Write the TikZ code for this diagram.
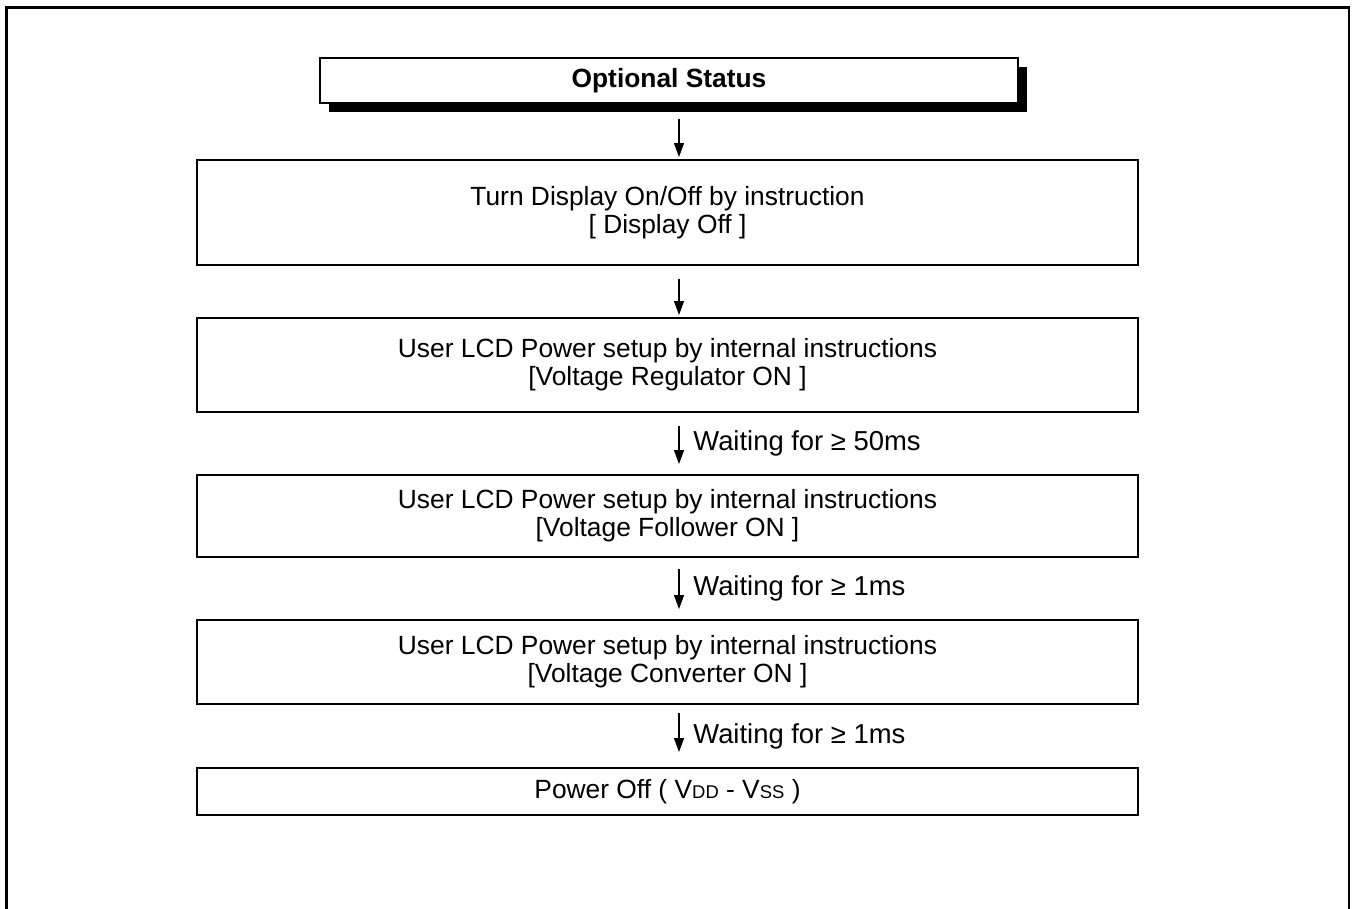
\documentclass[tikz,border=0pt]{standalone}
\usepackage{fontspec}
\setmainfont{Liberation Sans}
\usetikzlibrary{arrows.meta}
\usetikzlibrary{shadows}

\tikzset{
  stepbox/.style={draw,line width=1.1pt,minimum width=18.82cm,align=center,
    inner sep=0pt,font=\fontsize{15}{16}\selectfont},
  headbox/.style={draw,line width=1.1pt,fill=white,minimum width=13.96cm,minimum height=0.9cm,
    font=\bfseries\fontsize{15}{16}\selectfont,
    drop shadow={shadow xshift=0.17cm,shadow yshift=-0.17cm,fill=black,opacity=1}},
  flow/.style={line width=0.6pt,-{Triangle[width=0.2cm,length=0.28cm]}},
  wait/.style={midway,right=0.16cm,font=\fontsize{15.6}{16}\selectfont}
}
\newcommand{\subsc}[1]{{\fontsize{10.5}{12}\selectfont #1}}

\begin{document}
\begin{tikzpicture}
  \useasboundingbox (0,0) rectangle (27.12,-18.18);

  % outer frame, open at the bottom
  \draw[line width=1.5pt] (0.13,-18.4) -- (0.13,-0.15) -- (26.98,-0.15) -- (26.98,-18.4);

  \node[headbox] (Status) at (13.38,-1.61) {Optional Status};

  \node[stepbox,minimum height=2.10cm] (Display) at (13.35,-4.25)
    {Turn Display On/Off by instruction\\{[} Display Off ]};
  \node[stepbox,minimum height=1.88cm] (Regulator) at (13.35,-7.30)
    {User LCD Power setup by internal instructions\\{[}Voltage Regulator ON ]};
  \node[stepbox,minimum height=1.64cm] (Follower) at (13.35,-10.32)
    {User LCD Power setup by internal instructions\\{[}Voltage Follower ON ]};
  \node[stepbox,minimum height=1.68cm] (Converter) at (13.35,-13.24)
    {User LCD Power setup by internal instructions\\{[}Voltage Converter ON ]};
  \node[stepbox,minimum height=0.94cm] (PowerOff) at (13.35,-15.83)
    {Power Off ( V\subsc{DD} - V\subsc{SS} )};

  % arrows between the steps
  \draw[flow,shorten <=0.30cm,shorten >=0.04cm] ([xshift=0.20cm]Status.south) -- ([xshift=0.23cm]Display.north);
  \draw[flow,shorten <=0.26cm,shorten >=0.04cm] ([xshift=0.23cm]Display.south) -- ([xshift=0.23cm]Regulator.north);
  \draw[flow,shorten <=0.26cm,shorten >=0.20cm] ([xshift=0.23cm]Regulator.south) -- ([xshift=0.23cm]Follower.north)
    node[wait] {Waiting for ≥ 50ms};
  \draw[flow,shorten <=0.22cm,shorten >=0.20cm] ([xshift=0.23cm]Follower.south) -- ([xshift=0.23cm]Converter.north)
    node[wait] {Waiting for ≥ 1ms};
  \draw[flow,shorten <=0.16cm,shorten >=0.30cm] ([xshift=0.23cm]Converter.south) -- ([xshift=0.23cm]PowerOff.north)
    node[wait] {Waiting for ≥ 1ms};
\end{tikzpicture}
\end{document}
